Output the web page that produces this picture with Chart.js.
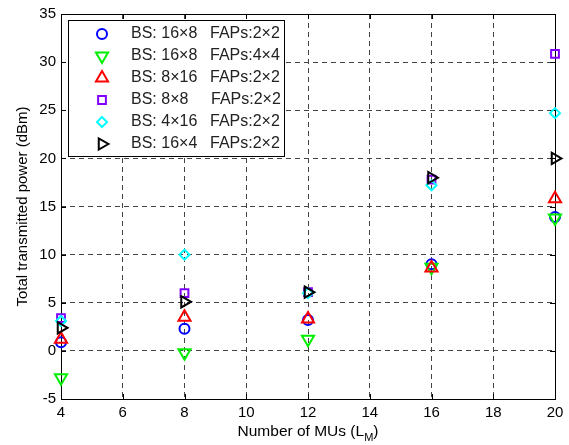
<!DOCTYPE html>
<html><head><meta charset="utf-8">
<script src="https://cdn.jsdelivr.net/npm/chart.js@4/dist/chart.umd.min.js"></script>
<style>html,body{margin:0;padding:0;background:#fff}#wrap{width:569px;height:445px}</style>
</head><body><div id="wrap"><canvas id="c"></canvas></div>
<script>
const mus = [4, 8, 12, 16, 20];
const bs16x8_fap2x2 = [0.9, 2.3, 3.2, 9.0, 13.9];
const bs16x8_fap4x4 = [-2.8, -0.2, 1.2, 8.7, 13.8];
const bs8x16_fap2x2 = [1.2, 3.5, 3.3, 8.6, 15.8];
const bs8x8_fap2x2 = [3.4, 6.0, 6.1, 17.8, 30.85];
const bs4x16_fap2x2 = [3.1, 10.0, 6.0, 17.2, 24.7];
const bs16x4_fap2x2 = [2.4, 5.1, 6.1, 18.0, 20.0];
const bsLabels = ['BS: 16\u00d78', 'BS: 16\u00d78', 'BS: 8\u00d716', 'BS: 8\u00d78', 'BS: 4\u00d716', 'BS: 16\u00d74'];
const fapLabels = ['FAPs:2\u00d72', 'FAPs:4\u00d74', 'FAPs:2\u00d72', 'FAPs:2\u00d72', 'FAPs:2\u00d72', 'FAPs:2\u00d72'];
const xTickValues = [4, 6, 8, 10, 12, 14, 16, 18, 20];
const yTickValues = [-5, 0, 5, 10, 15, 20, 25, 30, 35];
const xTitle = 'Number of MUs (L';
const xTitleSub = 'M';
const yTitle = 'Total transmitted power (dBm)';

const series = [bs16x8_fap2x2, bs16x8_fap4x4, bs8x16_fap2x2, bs8x8_fap2x2, bs4x16_fap2x2, bs16x4_fap2x2];
const colors = ['#0000ff', '#00ee00', '#ff0000', '#8000ff', '#00ffff', '#000000'];
const styles = [
  {pointStyle: 'circle', radius: 5, rotation: 0},
  {pointStyle: 'triangle', radius: 7, rotation: 180},
  {pointStyle: 'triangle', radius: 7, rotation: 0},
  {pointStyle: 'rect', radius: 5.5, rotation: 0},
  {pointStyle: 'rectRot', radius: 5, rotation: 0},
  {pointStyle: 'triangle', radius: 6.5, rotation: 90}
];
const FONT = '"Liberation Sans", Arial, sans-serif';

const datasets = series.map((vals, i) => ({
  label: bsLabels[i] + ' ' + fapLabels[i],
  data: mus.map((x, j) => ({x: x, y: vals[j]})),
  showLine: false,
  clip: false,
  borderColor: colors[i],
  backgroundColor: 'rgba(0,0,0,0)',
  pointStyle: styles[i].pointStyle,
  pointRadius: styles[i].radius,
  pointRotation: styles[i].rotation,
  pointBorderWidth: 2,
  pointHoverRadius: styles[i].radius,
  order: series.length - i
}));

function drawMarker(ctx, st, x, y) {
  const r = st.radius;
  ctx.beginPath();
  if (st.pointStyle === 'circle') {
    ctx.arc(x, y, r, 0, Math.PI * 2);
  } else if (st.pointStyle === 'rect') {
    const s = r * Math.SQRT1_2;
    ctx.rect(x - s, y - s, 2 * s, 2 * s);
  } else if (st.pointStyle === 'rectRot') {
    ctx.moveTo(x, y - r); ctx.lineTo(x + r, y); ctx.lineTo(x, y + r); ctx.lineTo(x - r, y);
    ctx.closePath();
  } else if (st.pointStyle === 'triangle') {
    let rad = st.rotation * Math.PI / 180;
    for (let k = 0; k < 3; k++) {
      const ang = rad - Math.PI / 2 + k * 2 * Math.PI / 3;
      const px = x + Math.cos(ang) * r, py = y + Math.sin(ang) * r;
      if (k === 0) ctx.moveTo(px, py); else ctx.lineTo(px, py);
    }
    ctx.closePath();
  }
  ctx.stroke();
}

const framePlugin = {
  id: 'frame',
  beforeDatasetsDraw(chart) {
    const {ctx, chartArea: a, scales: {x, y}} = chart;
    ctx.save();
    ctx.strokeStyle = '#000';
    ctx.lineWidth = 1;
    ctx.strokeRect(Math.round(a.left) + 0.5, Math.round(a.top) + 0.5, Math.round(a.right - a.left), Math.round(a.bottom - a.top));
    ctx.beginPath();
    xTickValues.forEach(v => {
      const px = Math.round(x.getPixelForValue(v)) + 0.5;
      ctx.moveTo(px, a.bottom); ctx.lineTo(px, a.bottom - 5);
      ctx.moveTo(px, a.top); ctx.lineTo(px, a.top + 5);
    });
    yTickValues.forEach(v => {
      const py = Math.round(y.getPixelForValue(v)) + 0.5;
      ctx.moveTo(a.left, py); ctx.lineTo(a.left + 5, py);
      ctx.moveTo(a.right, py); ctx.lineTo(a.right - 5, py);
    });
    ctx.stroke();
    ctx.restore();
  },
  afterDraw(chart) {
    const {ctx, chartArea: a} = chart;
    ctx.save();
    // legend
    const lx = 68, ly = 20, lw = 216, lh = 136;
    ctx.fillStyle = '#fff';
    ctx.fillRect(lx, ly, lw, lh);
    ctx.strokeStyle = '#000';
    ctx.lineWidth = 1;
    ctx.strokeRect(lx + 0.5, ly + 0.5, lw, lh);
    ctx.font = '16px ' + FONT;
    ctx.textBaseline = 'middle';
    ctx.textAlign = 'left';
    series.forEach((s, i) => {
      const ry = 34 + i * 22;
      ctx.strokeStyle = colors[i];
      ctx.lineWidth = 2;
      drawMarker(ctx, styles[i], 102, ry);
      ctx.fillStyle = '#222';
      ctx.fillText(bsLabels[i], 131, ry);
      ctx.fillText(fapLabels[i], i === 3 ? 211 : 210, ry);
    });
    // x title with subscript
    ctx.fillStyle = '#000';
    ctx.font = '15.5px ' + FONT;
    const w1 = ctx.measureText(xTitle).width;
    ctx.font = '11px ' + FONT;
    const w2 = ctx.measureText(xTitleSub).width;
    ctx.font = '15.5px ' + FONT;
    const w3 = ctx.measureText(')').width;
    const cx = (a.left + a.right) / 2;
    let sx = cx - (w1 + w2 + w3) / 2;
    ctx.textBaseline = 'alphabetic';
    ctx.fillText(xTitle, sx, 436);
    ctx.font = '11px ' + FONT;
    ctx.fillText(xTitleSub, sx + w1, 441);
    ctx.font = '15.5px ' + FONT;
    ctx.fillText(')', sx + w1 + w2, 436);
    // y title
    ctx.font = '15px ' + FONT;
    ctx.translate(23, (a.top + a.bottom) / 2);
    ctx.rotate(-Math.PI / 2);
    ctx.textAlign = 'center';
    ctx.textBaseline = 'middle';
    ctx.fillText(yTitle, 0, 0);
    ctx.restore();
  }
};

new Chart(document.getElementById('c'), {
  type: 'scatter',
  data: {datasets},
  plugins: [framePlugin],
  options: {
    responsive: true,
    maintainAspectRatio: false,
    animation: false,
    events: [],
    layout: {padding: {top: 12, right: 14, left: 0, bottom: 0}},
    plugins: {legend: {display: false}, tooltip: {enabled: false}},
    scales: {
      x: {
        type: 'linear', min: 4, max: 20,
        afterBuildTicks: s => { s.ticks = xTickValues.map(v => ({value: v})); },
        afterFit: s => { s.height = 46; },
        ticks: {color: '#000', font: {family: FONT, size: 15}, padding: 5, maxRotation: 0},
        grid: {color: '#444', lineWidth: 1, drawTicks: false},
        border: {display: false, dash: [5, 4]}
      },
      y: {
        type: 'linear', min: -5, max: 35,
        afterBuildTicks: s => { s.ticks = yTickValues.map(v => ({value: v})); },
        afterFit: s => { s.width = 61; },
        ticks: {color: '#000', font: {family: FONT, size: 15}, padding: 5},
        grid: {color: '#444', lineWidth: 1, drawTicks: false},
        border: {display: false, dash: [5, 4]}
      }
    }
  }
});
</script></body></html>
